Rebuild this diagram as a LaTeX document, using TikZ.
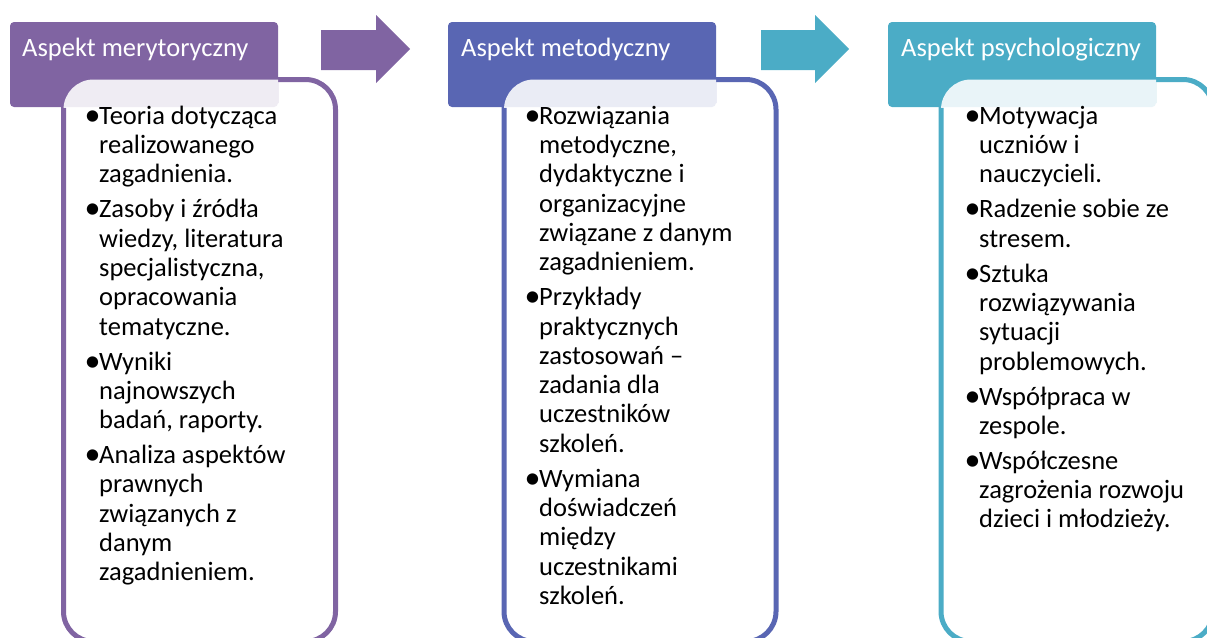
\documentclass[tikz,border=0pt]{standalone}
\usepackage{fontspec}
\setmainfont{Carlito}
\definecolor{cA}{HTML}{8064A2}
\definecolor{cB}{HTML}{5966B3}
\definecolor{cC}{HTML}{4BACC6}
\tikzset{
  hdr/.style={fill=#1, rounded corners=4pt, minimum width=268pt, minimum height=85pt,
    anchor=north west, inner sep=0pt, outer sep=0pt},
  panel/.style={draw=#1, fill=white, line width=5pt, rounded corners=30pt,
    minimum width=272pt, minimum height=562pt, anchor=north west, inner sep=0pt, outer sep=0pt},
  veil/.style={fill=white, fill opacity=0.88, rounded corners=30pt},
  hdrtext/.style={text=white, font=\fontsize{26.5}{30}\selectfont, anchor=base west, inner sep=0pt},
  body/.style={anchor=north west, inner sep=0pt, text=black},
  bigarrow/.style={fill=#1}
}
\newcommand\itm[1]{\hangindent=14pt\hangafter=1\makebox[14pt][l]{\hspace{-0.5pt}\raisebox{-1.1pt}{\fontsize{32}{0}\selectfont •}}#1\par}
\newcommand\colbox[1]{\begin{minipage}[t]{260pt}\fontsize{26.5}{29.3}\selectfont\parindent=0pt\parskip=5.7pt\rule{0pt}{22pt}#1\end{minipage}}
\begin{document}
\begin{tikzpicture}[x=1pt,y=-1pt]
\useasboundingbox (0,0) rectangle (1207,637);
\clip (0,0) rectangle (1207,637);
% panels
\node[panel=cA] (p1) at (63.5,79.5) {};
\node[panel=cB] (p2) at (504,79.5) {};
\node[panel=cC] (p3) at (941,79.5) {};
% headers
\node[hdr=cA] (h1) at (10,22) {};
\node[hdr=cB] (h2) at (448,22) {};
\node[hdr=cC] (h3) at (888,22) {};
% veils over header overlap
\begin{scope}
  \clip (h1.north west) rectangle (h1.south east);
  \fill[veil] (p1.north west) rectangle (p1.south east);
\end{scope}
\begin{scope}
  \clip (h2.north west) rectangle (h2.south east);
  \fill[veil] (p2.north west) rectangle (p2.south east);
\end{scope}
\begin{scope}
  \clip (h3.north west) rectangle (h3.south east);
  \fill[veil] (p3.north west) rectangle (p3.south east);
\end{scope}
% header texts
\node[hdrtext] (t1) at (22,56.7) {Aspekt merytoryczny};
\node[hdrtext] (t2) at (461,56.7) {Aspekt metodyczny};
\node[hdrtext] (t3) at (901,56.7) {Aspekt psychologiczny};
% arrows
\fill[bigarrow=cA] (321,30) -- (376,30) -- (376,15) -- (410,49) -- (376,83) -- (376,70) -- (321,70) -- cycle;
\fill[bigarrow=cC] (761,30) -- (815,30) -- (815,15) -- (849,49) -- (815,83) -- (815,70) -- (761,70) -- cycle;
% body texts
\node[body] (b1) at (85,102) {\colbox{%
\itm{Teoria dotycząca\\realizowanego\\zagadnienia.}%
\itm{Zasoby i źródła\\wiedzy, literatura\\specjalistyczna,\\opracowania\\tematyczne.}%
\itm{Wyniki\\najnowszych\\badań, raporty.}%
\itm{Analiza aspektów\\prawnych\\związanych z\\danym\\zagadnieniem.}}};
\node[body] (b2) at (525,102) {\colbox{%
\itm{Rozwiązania\\metodyczne,\\dydaktyczne i\\organizacyjne\\związane z danym\\zagadnieniem.}%
\itm{Przykłady\\praktycznych\\zastosowań –\\zadania dla\\uczestników\\szkoleń.}%
\itm{Wymiana\\doświadczeń\\między\\uczestnikami\\szkoleń.}}};
\node[body] (b3) at (965,102) {\colbox{%
\itm{Motywacja\\uczniów i\\nauczycieli.}%
\itm{Radzenie sobie ze\\stresem.}%
\itm{Sztuka\\rozwiązywania\\sytuacji\\problemowych.}%
\itm{Współpraca w\\zespole.}%
\itm{Współczesne\\zagrożenia rozwoju\\dzieci i młodzieży.}}};
\end{tikzpicture}
\end{document}
